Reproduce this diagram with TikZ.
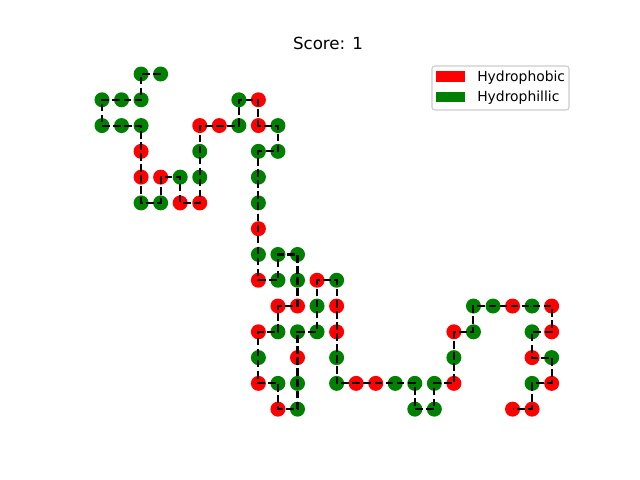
\documentclass[tikz,border=0pt]{standalone}
\usepackage{fontspec}
\setmainfont{DejaVu Sans}
\definecolor{phobred}{rgb}{1,0,0}
\definecolor{philgreen}{rgb}{0,0.5,0}
\tikzset{
  phob/.style={circle, fill=phobred, inner sep=0pt, minimum size=10.8pt},
  phil/.style={circle, fill=philgreen, inner sep=0pt, minimum size=10.8pt},
  bond/.style={line width=1.5pt, draw=black, dash pattern=on 5.55pt off 2.4pt},
  legendframe/.style={draw=black!20, fill=white, fill opacity=0.8, line width=0.8pt, rounded corners=2pt},
  legendtext/.style={font=\fontsize{10}{12}\selectfont, anchor=base west, inner sep=0pt},
}

\begin{document}
\begin{tikzpicture}[x=0.72pt, y=-0.72pt]
\useasboundingbox (0,0) rectangle (640,480);
\node[font=\fontsize{12}{14}\selectfont, anchor=base, inner sep=0pt] (title) at (328,49.5) {Score: 1};
\begin{scope}[shift={(102,74)}, x=14.076pt, y=-18.562pt]
\node[phil] (m1) at (3,0) {};
\node[phil] (m2) at (2,0) {};
\node[phil] (m3) at (2,1) {};
\node[phil] (m4) at (1,1) {};
\node[phil] (m5) at (0,1) {};
\node[phil] (m6) at (0,2) {};
\node[phil] (m7) at (1,2) {};
\node[phil] (m8) at (2,2) {};
\node[phob] (m9) at (2,3) {};
\node[phob] (m10) at (2,4) {};
\node[phil] (m11) at (2,5) {};
\node[phil] (m12) at (3,5) {};
\node[phob] (m13) at (3,4) {};
\node[phil] (m14) at (4,4) {};
\node[phob] (m15) at (4,5) {};
\node[phob] (m16) at (5,5) {};
\node[phil] (m17) at (5,4) {};
\node[phil] (m18) at (5,3) {};
\node[phob] (m19) at (5,2) {};
\node[phob] (m20) at (6,2) {};
\node[phil] (m21) at (7,2) {};
\node[phil] (m22) at (7,1) {};
\node[phob] (m23) at (8,1) {};
\node[phob] (m24) at (8,2) {};
\node[phil] (m25) at (9,2) {};
\node[phil] (m26) at (9,3) {};
\node[phil] (m27) at (8,3) {};
\node[phil] (m28) at (8,4) {};
\node[phil] (m29) at (8,5) {};
\node[phob] (m30) at (8,6) {};
\node[phil] (m31) at (8,7) {};
\node[phob] (m32) at (8,8) {};
\node[phil] (m33) at (9,8) {};
\node[phil] (m34) at (9,7) {};
\node[phil] (m35) at (10,7) {};
\node[phil] (m36) at (10,8) {};
\node[phob] (m37) at (10,9) {};
\node[phob] (m38) at (9,9) {};
\node[phil] (m39) at (9,10) {};
\node[phob] (m40) at (8,10) {};
\node[phil] (m41) at (8,11) {};
\node[phob] (m42) at (8,12) {};
\node[phil] (m43) at (9,12) {};
\node[phob] (m44) at (9,13) {};
\node[phil] (m45) at (10,13) {};
\node[phil] (m46) at (10,12) {};
\node[phob] (m47) at (10,11) {};
\node[phil] (m48) at (10,10) {};
\node[phil] (m49) at (11,10) {};
\node[phil] (m50) at (11,9) {};
\node[phob] (m51) at (11,8) {};
\node[phil] (m52) at (12,8) {};
\node[phob] (m53) at (12,9) {};
\node[phob] (m54) at (12,10) {};
\node[phil] (m55) at (12,11) {};
\node[phil] (m56) at (12,12) {};
\node[phob] (m57) at (13,12) {};
\node[phob] (m58) at (14,12) {};
\node[phil] (m59) at (15,12) {};
\node[phil] (m60) at (16,12) {};
\node[phil] (m61) at (16,13) {};
\node[phil] (m62) at (17,13) {};
\node[phil] (m63) at (17,12) {};
\node[phob] (m64) at (18,12) {};
\node[phil] (m65) at (18,11) {};
\node[phob] (m66) at (18,10) {};
\node[phil] (m67) at (19,10) {};
\node[phil] (m68) at (19,9) {};
\node[phil] (m69) at (20,9) {};
\node[phob] (m70) at (21,9) {};
\node[phil] (m71) at (22,9) {};
\node[phob] (m72) at (23,9) {};
\node[phob] (m73) at (23,10) {};
\node[phil] (m74) at (22,10) {};
\node[phob] (m75) at (22,11) {};
\node[phil] (m76) at (23,11) {};
\node[phob] (m77) at (23,12) {};
\node[phil] (m78) at (22,12) {};
\node[phob] (m79) at (22,13) {};
\node[phob] (m80) at (21,13) {};
\draw[bond] (m1.center) -- (m2.center) -- (m3.center) -- (m4.center) -- (m5.center)
  -- (m6.center) -- (m7.center) -- (m8.center) -- (m9.center) -- (m10.center)
  -- (m11.center) -- (m12.center) -- (m13.center) -- (m14.center) -- (m15.center)
  -- (m16.center) -- (m17.center) -- (m18.center) -- (m19.center) -- (m20.center)
  -- (m21.center) -- (m22.center) -- (m23.center) -- (m24.center) -- (m25.center)
  -- (m26.center) -- (m27.center) -- (m28.center) -- (m29.center) -- (m30.center)
  -- (m31.center) -- (m32.center) -- (m33.center) -- (m34.center) -- (m35.center)
  -- (m36.center) -- (m37.center) -- (m38.center) -- (m39.center) -- (m40.center)
  -- (m41.center) -- (m42.center) -- (m43.center) -- (m44.center) -- (m45.center)
  -- (m46.center) -- (m47.center) -- (m48.center) -- (m49.center) -- (m50.center)
  -- (m51.center) -- (m52.center) -- (m53.center) -- (m54.center) -- (m55.center)
  -- (m56.center) -- (m57.center) -- (m58.center) -- (m59.center) -- (m60.center)
  -- (m61.center) -- (m62.center) -- (m63.center) -- (m64.center) -- (m65.center)
  -- (m66.center) -- (m67.center) -- (m68.center) -- (m69.center) -- (m70.center)
  -- (m71.center) -- (m72.center) -- (m73.center) -- (m74.center) -- (m75.center)
  -- (m76.center) -- (m77.center) -- (m78.center) -- (m79.center) -- (m80.center);
\end{scope}
% legend
\draw[legendframe] (432,66) rectangle (569,110);
\fill[phobred] (436,71) rectangle (465,82);
\fill[philgreen] (436,92) rectangle (465,102);
\node[legendtext] (phobtext) at (477,81.5) {Hydrophobic};
\node[legendtext] (philtext) at (477,101.7) {Hydrophillic};
\end{tikzpicture}
\end{document}
